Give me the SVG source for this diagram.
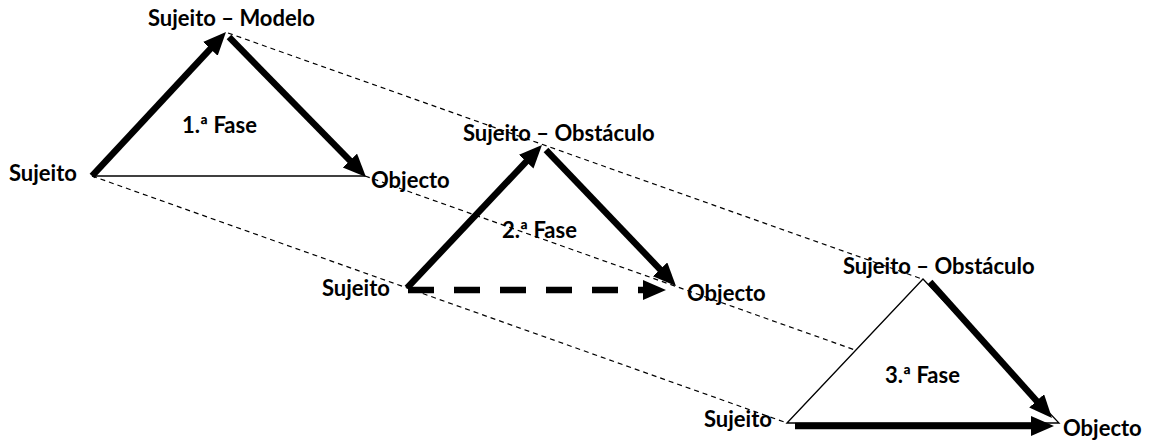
<svg xmlns="http://www.w3.org/2000/svg" width="1155" height="441" viewBox="0 0 1155 441">
<style>
text{font-family:Lato,"Open Sans","Liberation Sans",sans-serif;font-weight:bold;font-size:22px;fill:#000}
.thick{stroke:#000;stroke-width:6.5;fill:none;marker-end:url(#head)}
.dash{stroke:#000;stroke-width:1.2;stroke-dasharray:5 4;fill:none}
.thin{stroke:#000;stroke-width:1.3;fill:none}
</style>
<defs>
<marker id="head" markerUnits="userSpaceOnUse" markerWidth="26" markerHeight="22" refX="7" refY="10" orient="auto" viewBox="0 0 26 22">
<path d="M0,0 L23,10 L0,20 z" fill="#000"/>
</marker>
</defs>
<rect width="1155" height="441" fill="#fff"/>
<g id="connectors">
<line class="dash" x1="228" y1="33" x2="922" y2="279"/>
<line class="dash" x1="92" y1="176" x2="787" y2="423"/>
<line class="dash" x1="365" y1="176" x2="855" y2="350"/>
<line class="thin" x1="92" y1="176" x2="365" y2="176"/>
<polygon class="thin" points="787,423 923,279 1059,423"/>
<line class="thick" x1="92" y1="176" x2="215.1" y2="43.7"/>
<line class="thick" x1="229" y1="37" x2="354.8" y2="165.6"/>
<line class="thick" x1="407" y1="288" x2="531" y2="156.6"/>
<line class="thick" x1="546" y1="150" x2="664.9" y2="274.4"/>
<line class="thick" x1="408" y1="290" x2="650" y2="290" stroke-dasharray="26 20"/>
<line class="thick" x1="930" y1="282" x2="1041.3" y2="406.1"/>
<line class="thick" x1="795" y1="426" x2="1038" y2="426"/>
</g>
<g id="fase1">
<text x="148" y="26">Sujeito – Modelo</text>
<text x="9" y="181">Sujeito</text>
<text x="182" y="133">1.ª Fase</text>
<text x="371" y="188">Objecto</text>
</g>
<g id="fase2">
<text x="463" y="141">Sujeito – Obstáculo</text>
<text x="502" y="238">2.ª Fase</text>
<text x="322" y="296">Sujeito</text>
<text x="687" y="301">Objecto</text>
</g>
<g id="fase3">
<text x="843" y="274">Sujeito – Obstáculo</text>
<text x="885" y="383">3.ª Fase</text>
<text x="704" y="427">Sujeito</text>
<text x="1063" y="436">Objecto</text>
</g>
</svg>
